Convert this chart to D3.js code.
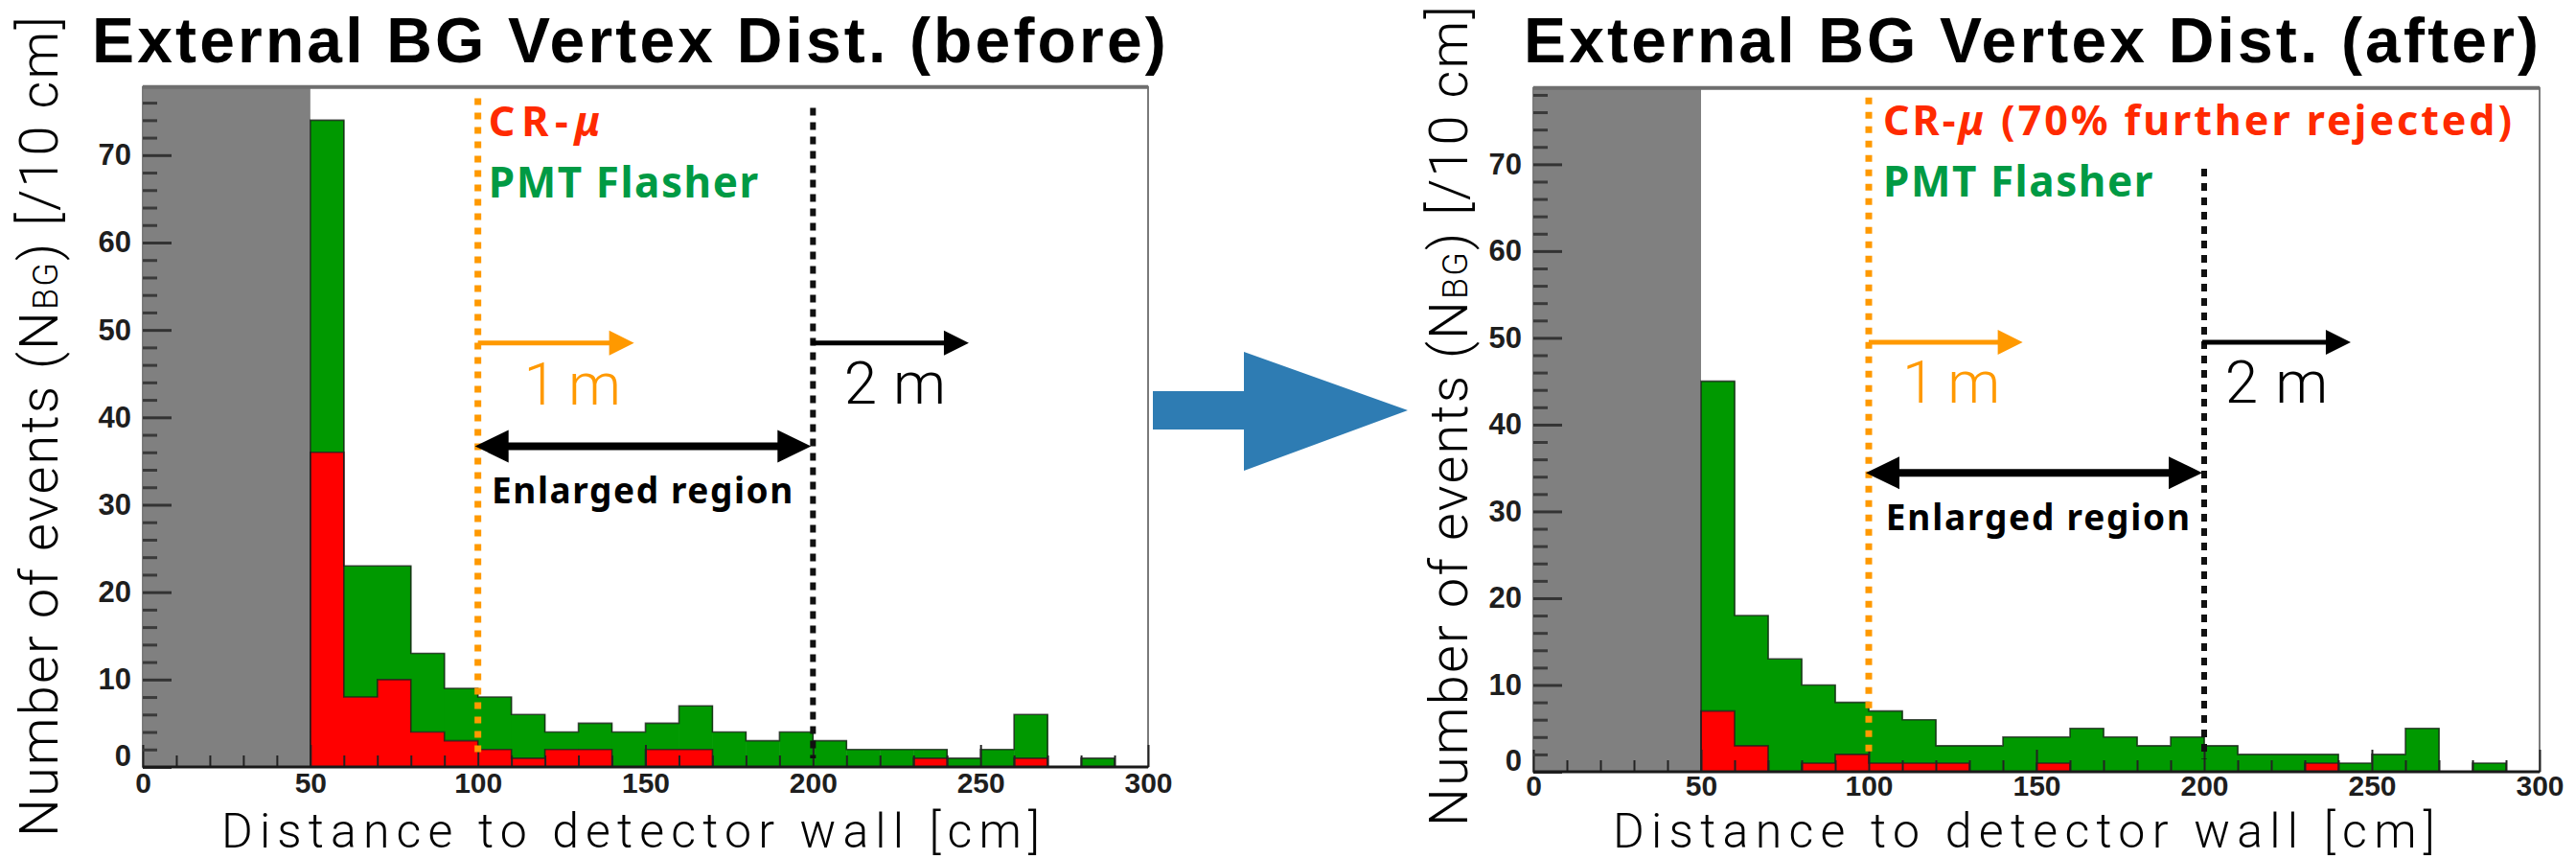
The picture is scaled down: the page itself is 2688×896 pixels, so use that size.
<!DOCTYPE html>
<html>
<head>
<meta charset="utf-8">
<script src="https://cdn.jsdelivr.net/npm/d3@7"></script>
<style>
  html, body { margin: 0; padding: 0; background: #fff; }
  svg { display: block; }
</style>
</head>
<body>
<svg id="chart" width="2688" height="896"></svg>
<script>
// lower edge of each 10 cm bin [cm]
const binEdges = d3.range(50, 300, 10)
// PMT flasher counts (identical before/after)
const pmtFlasher = [38, 15, 13, 9, 6, 6, 5, 2, 3, 4, 3, 5, 4, 3, 4, 3, 2, 2, 1, 1, 2, 5, 0, 1, 0]
// cosmic-ray muon counts
const crMuBefore = [36, 8, 10, 4, 3, 2, 1, 2, 2, 0, 2, 2, 0, 0, 0, 0, 0, 0, 1, 0, 0, 1, 0, 0, 0]
const crMuAfter = [7, 3, 0, 1, 2, 1, 1, 1, 0, 0, 1, 0, 0, 0, 0, 0, 0, 0, 1, 0, 0, 0, 0, 0, 0]

const xTicks = [0, 50, 100, 150, 200, 250, 300]
const yTicks = [0, 10, 20, 30, 40, 50, 60, 70]
const titles = ['External BG Vertex Dist. (before)', 'External BG Vertex Dist. (after)']
const crLabels = ['', ' (70% further rejected)']
const xTitle = 'Distance to detector wall [cm]'

const BOLD = "'Liberation Sans', Arial, Helvetica, sans-serif"
const WIDE_BOLD = "'Noto Sans', 'Open Sans', 'DejaVu Sans', sans-serif"
const LIGHT = "Roboto, Lato, 'Noto Sans', sans-serif"
const C = {
  red: '#ff0000', green: '#009900', gray: '#808080',
  orange: '#ff9900', redText: '#ff2a00', greenText: '#009a44', blue: '#2e7cb3'
}

// layout of the two pads (pixels) and where the annotations sit (data units)
const panels = [
  {
    title: titles[0], cr: crMuBefore, crLabel: crLabels[0],
    x0: 149, x1: 1198, y0: 800, yTop: 90.7, yMax: 77.8, tickPad: 6,
    titleX: 96, titleW: 1124, xtX: 231, xtW: 861, ytX: 60, ytY: 873,
    orangeSpan: [1, 76.5], blackSpan: [1, 75.4],
    arrowY: 48.5, orangeEnd: 146.6, blackEnd: 246.5, dblY: 36.7,
    crAt: [103.2, 72.2, 124], pmtAt: [103.2, 65.2, 283],
    oneAt: [113.7, 41.5, 100], twoAt: [209.3, 41.6, 107], enlAt: [104.1, 30.2, 316]
  },
  {
    title: titles[1], cr: crMuAfter, crLabel: crLabels[1],
    x0: 1600, x1: 2650, y0: 805, yTop: 91.7, yMax: 78.8, tickPad: 4,
    titleX: 1590, titleW: 1062, xtX: 1683, xtW: 865, ytX: 1531, ytY: 862,
    orangeSpan: [1.5, 77.7], blackSpan: [1.5, 69.5],
    arrowY: 49.5, orangeEnd: 145.9, blackEnd: 243.7, dblY: 34.45,
    crAt: [104.3, 73.3, 659], pmtAt: [104.3, 66.3, 283],
    oneAt: [110, 42.5, 101], twoAt: [206.2, 42.5, 109], enlAt: [105.1, 27.85, 319]
  }
]

const svg = d3.select('#chart')

// stretch letter spacing so a text runs over the measured width
function fit (sel, width) {
  const n = sel.text().length
  const len = sel.node().getComputedTextLength()
  sel.attr('letter-spacing', ((width - len) / n).toFixed(2))
  return sel
}

function arrowHead (g, tipX, y, dir, len, half, color) {
  g.append('path')
    .attr('d', `M${tipX},${y}L${tipX - dir * len},${y - half}L${tipX - dir * len},${y + half}Z`)
    .attr('fill', color)
}

function drawPanel (p) {
  const x = d3.scaleLinear().domain([0, 300]).range([p.x0, p.x1])
  const y = d3.scaleLinear().domain([0, p.yMax]).range([p.y0, p.yTop])
  const g = svg.append('g')

  // region excluded by the fiducial cut
  g.append('rect')
    .attr('x', x(0)).attr('y', p.yTop)
    .attr('width', x(50) - x(0)).attr('height', p.y0 - p.yTop)
    .attr('fill', C.gray)

  // stacked histogram: CR-mu at the bottom, PMT flasher on top
  const rows = binEdges.map((e, i) => ({ edge: e, cr: p.cr[i], flasher: pmtFlasher[i] }))
  const series = d3.stack().keys(['cr', 'flasher'])(rows)
  const fills = { cr: C.red, flasher: C.green }

  g.selectAll('g.layer').data(series).join('g')
    .attr('class', 'layer')
    .attr('fill', d => fills[d.key])
    .selectAll('rect').data(d => d).join('rect')
    .attr('x', d => x(d.data.edge))
    .attr('width', x(10) - x(0) + 0.5)
    .attr('y', d => y(d[1]))
    .attr('height', d => y(d[0]) - y(d[1]))

  // histogram outlines
  const step = d3.line().x(d => x(d[0])).y(d => y(d[1])).curve(d3.curveStepAfter)
  series.forEach(s => {
    const pts = [[50, 0]].concat(s.map(d => [d.data.edge, d[1]]))
    pts.push([300, s[s.length - 1][1]])
    g.append('path')
      .attr('d', step(pts))
      .attr('fill', 'none')
      .attr('stroke', '#1a1a1a')
      .attr('stroke-opacity', 0.75)
      .attr('stroke-width', 1.6)
  })

  // frame
  g.append('rect')
    .attr('x', p.x0).attr('y', p.yTop)
    .attr('width', p.x1 - p.x0).attr('height', p.y0 - p.yTop)
    .attr('fill', 'none').attr('stroke', '#7a7a7a').attr('stroke-width', 2)
  g.append('line')
    .attr('x1', p.x0).attr('x2', p.x1).attr('y1', p.yTop).attr('y2', p.yTop)
    .attr('stroke', '#6e6e6e').attr('stroke-width', 4)

  // axes, ticks pointing inward (ROOT style)
  const gxMinor = g.append('g').attr('transform', `translate(0,${p.y0})`)
    .call(d3.axisBottom(x).tickValues(d3.range(0, 301, 10).filter(v => v % 50)).tickSize(-12).tickFormat(''))
  const gx = g.append('g').attr('transform', `translate(0,${p.y0})`)
    .call(d3.axisBottom(x).tickValues(xTicks).tickSize(-23).tickPadding(p.tickPad))
  const gyMinor = g.append('g').attr('transform', `translate(${p.x0},0)`)
    .call(d3.axisLeft(y).tickValues(d3.range(0, p.yMax, 2).filter(v => v % 10)).tickSize(-15).tickFormat(''))
  const gy = g.append('g').attr('transform', `translate(${p.x0},0)`)
    .call(d3.axisLeft(y).tickValues(yTicks).tickSize(-30).tickPadding(12))

  ;[gx, gxMinor, gy, gyMinor].forEach(a => {
    a.select('.domain').remove()
    a.attr('font-family', BOLD).attr('font-size', 31).attr('font-weight', 'bold')
    a.selectAll('.tick text').attr('fill', '#1e1e1e')
  })
  gx.attr('font-size', 30)
  gx.selectAll('.tick line').attr('stroke', '#222').attr('stroke-width', 2)
  gxMinor.selectAll('.tick line').attr('stroke', '#222').attr('stroke-width', 2)
  gy.selectAll('.tick line').attr('stroke', '#333').attr('stroke-width', 3)
  gyMinor.selectAll('.tick line').attr('stroke', '#3a3a3a').attr('stroke-width', 3)
  gy.selectAll('.tick').filter(d => d === 0).select('text').attr('dy', '-0.05em')

  g.append('line')
    .attr('x1', p.x0).attr('x2', p.x1).attr('y1', p.y0).attr('y2', p.y0)
    .attr('stroke', '#1a1a1a').attr('stroke-width', 3)

  // 1 m and 2 m boundaries
  g.append('line')
    .attr('x1', x(100)).attr('x2', x(100))
    .attr('y1', y(p.orangeSpan[1])).attr('y2', y(p.orangeSpan[0]))
    .attr('stroke', C.orange).attr('stroke-width', 7).attr('stroke-dasharray', '7 8')
  g.append('line')
    .attr('x1', x(200)).attr('x2', x(200))
    .attr('y1', y(p.blackSpan[1])).attr('y2', y(p.blackSpan[0]))
    .attr('stroke', '#111').attr('stroke-width', 6).attr('stroke-dasharray', '8 7')

  // single arrows
  const ay = y(p.arrowY)
  g.append('line').attr('x1', x(100)).attr('x2', x(p.orangeEnd) - 20).attr('y1', ay).attr('y2', ay)
    .attr('stroke', C.orange).attr('stroke-width', 5)
  arrowHead(g, x(p.orangeEnd), ay, 1, 26, 13, C.orange)
  g.append('line').attr('x1', x(200) - 2).attr('x2', x(p.blackEnd) - 20).attr('y1', ay).attr('y2', ay)
    .attr('stroke', '#000').attr('stroke-width', 5)
  arrowHead(g, x(p.blackEnd), ay, 1, 26, 13, '#000')

  // double arrow for the enlarged region
  const dy = y(p.dblY)
  g.append('line').attr('x1', x(100) + 25).attr('x2', x(200) - 25).attr('y1', dy).attr('y2', dy)
    .attr('stroke', '#000').attr('stroke-width', 8)
  arrowHead(g, x(100) - 3, dy, -1, 35, 17, '#000')
  arrowHead(g, x(200) - 2, dy, 1, 35, 17, '#000')

  // labels
  const cr = g.append('text')
    .attr('x', x(p.crAt[0])).attr('y', y(p.crAt[1]))
    .attr('font-family', WIDE_BOLD).attr('font-weight', 'bold').attr('font-size', 43)
    .attr('fill', C.redText)
  cr.append('tspan').text('CR-')
  cr.append('tspan').attr('font-style', 'italic').text('\u03bc')
  if (p.crLabel) cr.append('tspan').text(p.crLabel)
  fit(cr, p.crAt[2])

  fit(g.append('text')
    .attr('x', x(p.pmtAt[0])).attr('y', y(p.pmtAt[1]))
    .attr('font-family', WIDE_BOLD).attr('font-weight', 'bold').attr('font-size', 44)
    .attr('fill', C.greenText).text('PMT Flasher'), p.pmtAt[2])

  fit(g.append('text')
    .attr('x', x(p.oneAt[0])).attr('y', y(p.oneAt[1]))
    .attr('font-family', LIGHT).attr('font-weight', 300).attr('font-size', 62)
    .attr('fill', C.orange).text('1 m'), p.oneAt[2])

  fit(g.append('text')
    .attr('x', x(p.twoAt[0])).attr('y', y(p.twoAt[1]))
    .attr('font-family', LIGHT).attr('font-weight', 300).attr('font-size', 62)
    .attr('fill', '#000').text('2 m'), p.twoAt[2])

  fit(g.append('text')
    .attr('x', x(p.enlAt[0])).attr('y', y(p.enlAt[1]))
    .attr('font-family', WIDE_BOLD).attr('font-weight', 'bold').attr('font-size', 37)
    .attr('fill', '#000').text('Enlarged region'), p.enlAt[2])

  // titles
  fit(svg.append('text')
    .attr('x', p.titleX).attr('y', 65)
    .attr('font-family', BOLD).attr('font-weight', 'bold').attr('font-size', 66)
    .attr('fill', '#000').text(p.title), p.titleW)

  fit(svg.append('text')
    .attr('x', p.xtX).attr('y', 883.5)
    .attr('font-family', LIGHT).attr('font-weight', 300).attr('font-size', 50)
    .attr('fill', '#000').text(xTitle), p.xtW)

  const yt = svg.append('text')
    .attr('transform', `translate(${p.ytX},${p.ytY}) rotate(-90)`)
    .attr('font-family', LIGHT).attr('font-weight', 300).attr('font-size', 56)
    .attr('fill', '#000')
  yt.append('tspan').text('Number of events (N')
  yt.append('tspan').attr('font-size', 36).text('BG')
  yt.append('tspan').text(') [/10 cm]')
  fit(yt, 858)
}

panels.forEach(drawPanel)

// "before -> after" arrow between the pads
svg.append('path')
  .attr('d', 'M1203,408L1298,408L1298,367L1469,428L1298,491L1298,448L1203,448Z')
  .attr('fill', C.blue)
</script>
</body>
</html>
